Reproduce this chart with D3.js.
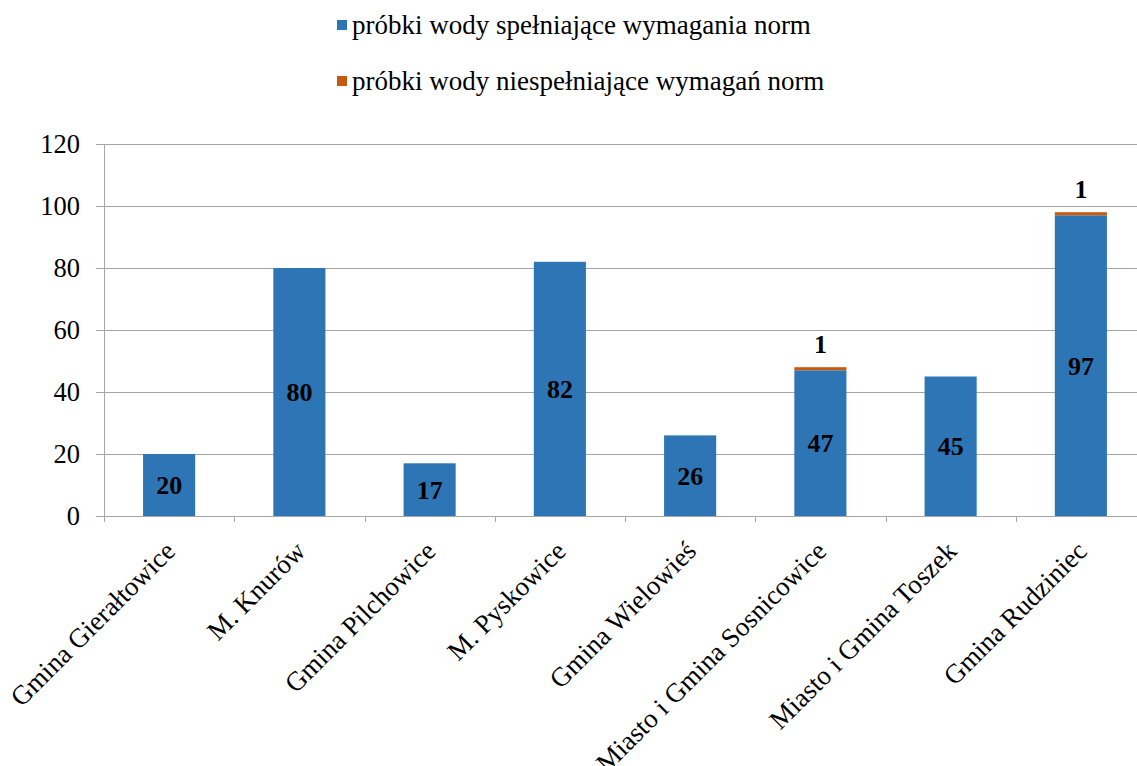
<!DOCTYPE html>
<html><head><meta charset="utf-8">
<script src="https://cdn.jsdelivr.net/npm/d3@7"></script>
<style>
body{margin:0;background:#fff;}
svg{display:block;}
text{font-family:"Liberation Serif","Times New Roman",serif;fill:#000;}
</style></head>
<body>
<svg id="chart" width="1137" height="766"></svg>
<script>
const categories = ["Gmina Gierałtowice","M. Knurów","Gmina Pilchowice","M. Pyskowice","Gmina Wielowieś","Miasto i Gmina Sosnicowice","Miasto i Gmina Toszek","Gmina Rudziniec"];
const compliant = [20,80,17,82,26,47,45,97];
const nonCompliant = [0,0,0,0,0,1,0,1];
const seriesNames = ["próbki wody spełniające wymagania norm","próbki wody niespełniające wymagań norm"];
const yTicks = [0,20,40,60,80,100,120];
const colors = ["#2E75B6","#C55A11"];

const FONT = "Liberation Serif, Times New Roman, serif";
const svg = d3.select("#chart");
const mLeft = 104, mRight = 1146, mTop = 144, mBottom = 516;

const x = d3.scaleBand().domain(categories).range([mLeft, mRight]).paddingInner(0.6).paddingOuter(0.3);
const xb = d3.scaleBand().domain(categories).range([mLeft, mRight]);
const y = d3.scaleLinear().domain([0,120]).range([mBottom, mTop]);

// gridlines
svg.append("g").selectAll("line").data(yTicks).join("line")
  .attr("x1", mLeft - 8).attr("x2", 1137)
  .attr("y1", d => Math.round(y(d)) + 0.5).attr("y2", d => Math.round(y(d)) + 0.5)
  .attr("stroke", "#a6a6a6").attr("stroke-width", 1);

// y axis line
svg.append("line").attr("x1", mLeft + 0.5).attr("x2", mLeft + 0.5).attr("y1", mTop).attr("y2", mBottom + 6)
  .attr("stroke", "#a6a6a6");

// x tick marks at band boundaries
const bounds = categories.map(c => xb(c)).concat([mRight]);
svg.append("g").selectAll("line").data(bounds).join("line")
  .attr("x1", d => Math.round(d) + 0.5).attr("x2", d => Math.round(d) + 0.5).attr("y1", mBottom).attr("y2", mBottom + 6)
  .attr("stroke", "#a6a6a6");

// y labels
svg.append("g").selectAll("text").data(yTicks).join("text")
  .attr("x", 80).attr("y", d => y(d)).attr("dy", "0.35em")
  .attr("text-anchor", "end").attr("font-family", FONT).attr("font-size", 26.5).text(d => d);

// bars
const data = categories.map((c,i) => ({c, a: compliant[i], b: nonCompliant[i]}));
svg.append("g").selectAll("rect").data(data).join("rect")
  .attr("x", d => x(d.c)).attr("width", x.bandwidth())
  .attr("y", d => y(d.a)).attr("height", d => y(0) - y(d.a))
  .attr("fill", colors[0]);
svg.append("g").selectAll("rect").data(data.filter(d => d.b > 0)).join("rect")
  .attr("x", d => x(d.c)).attr("width", x.bandwidth())
  .attr("y", d => y(d.a + d.b)).attr("height", d => y(d.a) - y(d.a + d.b))
  .attr("fill", colors[1]);

// value labels
svg.append("g").selectAll("text").data(data).join("text")
  .attr("x", d => x(d.c) + x.bandwidth()/2)
  .attr("y", d => y(d.a/2)).attr("dy", "0.35em")
  .attr("text-anchor", "middle").attr("font-family", FONT).attr("font-size", 26).attr("font-weight", "bold")
  .text(d => d.a);
svg.append("g").selectAll("text").data(data.filter(d => d.b > 0)).join("text")
  .attr("x", d => x(d.c) + x.bandwidth()/2)
  .attr("y", d => y(d.a + d.b) - 23).attr("dy", "0.35em")
  .attr("text-anchor", "middle").attr("font-family", FONT).attr("font-size", 26).attr("font-weight", "bold")
  .text(d => d.b);

// x labels
svg.append("g").selectAll("text").data(categories).join("text")
  .attr("transform", d => `translate(${x(d) + x.bandwidth()/2 + 1},${mBottom + 30}) rotate(-45)`)
  .attr("text-anchor", "end").attr("dy", "0.35em").attr("font-family", FONT).attr("font-size", 27)
  .text(d => d);

// legend
const lg = svg.append("g");
seriesNames.forEach((n, i) => {
  const cy = 25 + i * 56;
  lg.append("rect").attr("x", 337).attr("y", cy - 5).attr("width", 10).attr("height", 10).attr("fill", colors[i]);
  lg.append("text").attr("x", 352).attr("y", cy).attr("dy", "0.35em").attr("font-family", FONT).attr("font-size", 27).text(n);
});
</script>
</body></html>
